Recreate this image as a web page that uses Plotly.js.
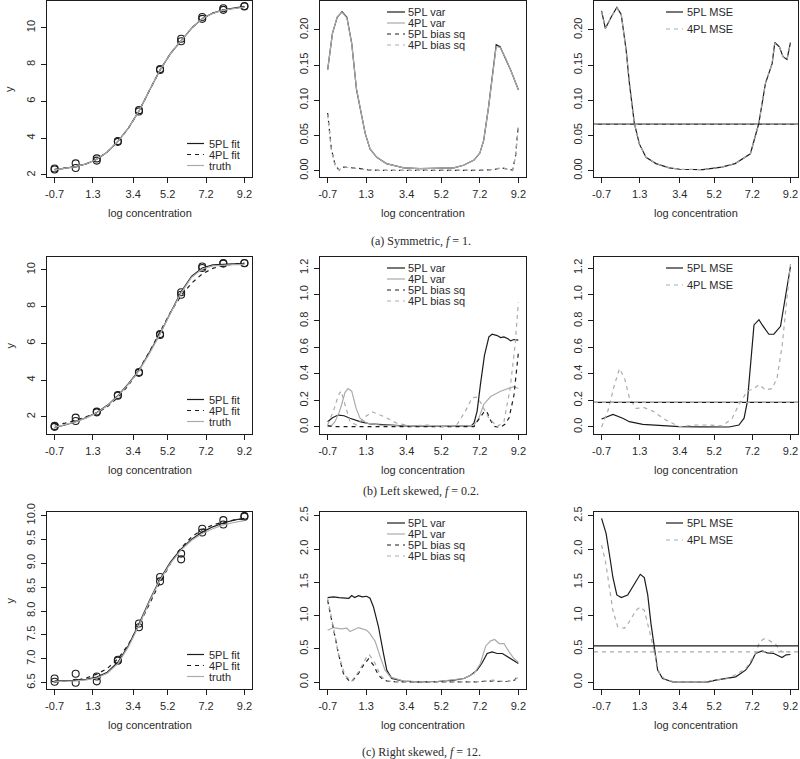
<!DOCTYPE html>
<html><head><meta charset="utf-8">
<script src="https://cdn.plot.ly/plotly-3.0.1.min.js"></script>
<style>html,body{margin:0;padding:0;background:#fff}#chart{width:800px;height:759px}</style>
</head><body><div id="chart"></div>
<script>
// ---------- tick labels ----------
const xTickVals = [-0.7, 1.3, 3.4, 5.2, 7.2, 9.2];
const xTickText = ['-0.7', '1.3', '3.4', '5.2', '7.2', '9.2'];
const yTicksA1 = [2, 4, 6, 8, 10];
const yTicksA2 = [0, 0.05, 0.10, 0.15, 0.20];
const yTicksB1 = [2, 4, 6, 8, 10];
const yTicksB2 = [0, 0.2, 0.4, 0.6, 0.8, 1.0, 1.2];
const yTicksC1 = [6.5, 7.0, 7.5, 8.0, 8.5, 9.0, 9.5, 10.0];
const yTicksC2 = [0, 0.5, 1.0, 1.5, 2.0, 2.5];

// ---------- observations (log concentration) ----------
const xObs = [-0.7, 0.4, 1.5, 2.6, 3.7, 4.8, 5.9, 7.0, 8.1, 9.2];
const obsA1 = [2.30, 2.38, 2.78, 3.80, 5.45, 7.70, 9.26, 10.48, 10.97, 11.15];
const obsA2 = [2.35, 2.63, 2.90, 3.84, 5.52, 7.75, 9.40, 10.58, 11.06, 11.18];
const obsB1 = [1.45, 1.77, 2.24, 3.15, 4.39, 6.45, 8.64, 10.10, 10.34, 10.36];
const obsB2 = [1.50, 1.95, 2.28, 3.18, 4.44, 6.50, 8.78, 10.18, 10.37, 10.37];
const obsC1 = [6.52, 6.50, 6.53, 6.96, 7.66, 8.62, 9.08, 9.64, 9.81, 9.97];
const obsC2 = [6.59, 6.69, 6.63, 6.98, 7.74, 8.71, 9.20, 9.72, 9.90, 9.99];

// ---------- fitted curves ----------
const xCurve = [-0.7, -0.15, 0.4, 0.95, 1.5, 2.05, 2.6, 3.15, 3.7, 4.25, 4.8, 5.35, 5.9, 6.45, 7.0, 7.55, 8.1, 8.65, 9.2];
const fit5A = [2.28, 2.35, 2.45, 2.60, 2.85, 3.25, 3.82, 4.55, 5.47, 6.60, 7.70, 8.60, 9.30, 9.98, 10.50, 10.79, 10.97, 11.08, 11.16];
const fit4A = [2.30, 2.36, 2.46, 2.61, 2.86, 3.25, 3.82, 4.54, 5.46, 6.60, 7.70, 8.61, 9.31, 9.98, 10.49, 10.79, 10.96, 11.06, 11.13];
const truthA = [2.28, 2.35, 2.45, 2.60, 2.85, 3.25, 3.82, 4.55, 5.47, 6.60, 7.70, 8.60, 9.30, 9.98, 10.50, 10.78, 10.95, 11.05, 11.12];
const fit5B = [1.42, 1.55, 1.73, 1.95, 2.23, 2.62, 3.15, 3.80, 4.52, 5.48, 6.52, 7.68, 8.80, 9.65, 10.10, 10.27, 10.32, 10.33, 10.33];
const fit4B = [1.55, 1.65, 1.80, 1.98, 2.20, 2.55, 3.05, 3.70, 4.55, 5.55, 6.62, 7.70, 8.60, 9.28, 9.78, 10.08, 10.24, 10.33, 10.38];
const truthB = [1.42, 1.55, 1.72, 1.94, 2.22, 2.60, 3.12, 3.78, 4.50, 5.45, 6.50, 7.65, 8.75, 9.60, 10.05, 10.22, 10.27, 10.28, 10.28];
const fit5C = [6.54, 6.54, 6.55, 6.57, 6.62, 6.72, 6.93, 7.28, 7.73, 8.22, 8.67, 9.03, 9.30, 9.50, 9.65, 9.76, 9.84, 9.90, 9.94];
const fit4C = [6.52, 6.53, 6.55, 6.60, 6.68, 6.80, 7.00, 7.30, 7.70, 8.15, 8.60, 9.00, 9.32, 9.55, 9.70, 9.80, 9.86, 9.90, 9.93];
const truthC = [6.53, 6.53, 6.54, 6.56, 6.60, 6.70, 6.90, 7.25, 7.70, 8.20, 8.65, 9.00, 9.28, 9.48, 9.62, 9.72, 9.80, 9.85, 9.89];

// ---------- (a) variance / bias^2 / MSE ----------
const varXA = [-0.7, -0.45, -0.2, 0.05, 0.3, 0.55, 0.8, 1.0, 1.25, 1.5, 1.85, 2.35, 3.25, 4.1, 5.0, 5.85, 6.35, 6.9, 7.2, 7.4, 7.65, 7.9, 8.05, 8.25, 8.5, 8.8, 9.2];
const var5A = [0.143, 0.195, 0.218, 0.226, 0.218, 0.181, 0.115, 0.086, 0.053, 0.031, 0.019, 0.010, 0.004, 0.003, 0.003, 0.004, 0.0076, 0.015, 0.025, 0.043, 0.090, 0.148, 0.179, 0.176, 0.162, 0.143, 0.115];
const var4A = [0.143, 0.195, 0.219, 0.225, 0.217, 0.180, 0.116, 0.086, 0.053, 0.031, 0.019, 0.010, 0.004, 0.003, 0.003, 0.004, 0.0076, 0.015, 0.025, 0.043, 0.090, 0.147, 0.176, 0.175, 0.162, 0.143, 0.115];
const biasXA = [-0.7, -0.5, -0.3, -0.1, 0.1, 0.3, 0.6, 1.0, 1.4, 2.0, 3.0, 4.0, 5.0, 6.0, 7.0, 7.6, 8.0, 8.3, 8.5, 8.7, 8.9, 9.05, 9.2];
const bias5A = [0.082, 0.030, 0.007, 0.001, 0.005, 0.005, 0.004, 0.003, 0.001, 0.0005, 0.0003, 0.0003, 0.0003, 0.0003, 0.0004, 0.001, 0.002, 0.004, 0.003, 0.001, 0.001, 0.020, 0.065];
const bias4A = [0.080, 0.028, 0.006, 0.001, 0.005, 0.005, 0.004, 0.002, 0.001, 0.0005, 0.0003, 0.0003, 0.0003, 0.0003, 0.0004, 0.001, 0.002, 0.004, 0.003, 0.001, 0.001, 0.020, 0.062];
const mseXA = [-0.7, -0.5, -0.2, 0.1, 0.33, 0.59, 0.76, 1.02, 1.28, 1.63, 2.15, 2.85, 3.4, 4.6, 5.6, 6.3, 7.1, 7.54, 7.89, 8.24, 8.38, 8.62, 8.81, 9.02, 9.2];
const mse5A = [0.227, 0.202, 0.218, 0.232, 0.222, 0.171, 0.124, 0.067, 0.038, 0.019, 0.010, 0.004, 0.002, 0.0015, 0.005, 0.010, 0.024, 0.067, 0.124, 0.152, 0.182, 0.176, 0.162, 0.158, 0.182];
const mse4A = [0.226, 0.202, 0.218, 0.231, 0.222, 0.171, 0.124, 0.067, 0.038, 0.019, 0.010, 0.004, 0.002, 0.0015, 0.005, 0.010, 0.024, 0.067, 0.124, 0.152, 0.181, 0.176, 0.162, 0.158, 0.181];
const meanMseA = [0.066, 0.066];

// ---------- (b) ----------
const var5XB = [-0.7, -0.45, -0.15, 0.15, 0.46, 0.98, 1.5, 2.37, 3.24, 4.5, 5.5, 6.5, 6.75, 6.9, 7.06, 7.23, 7.44, 7.67, 7.84, 8.1, 8.28, 8.45, 8.66, 8.8, 8.97, 9.2];
const var5B = [0.04, 0.07, 0.09, 0.085, 0.066, 0.04, 0.023, 0.015, 0.008, 0.005, 0.004, 0.005, 0.008, 0.03, 0.12, 0.32, 0.54, 0.68, 0.70, 0.69, 0.675, 0.68, 0.666, 0.65, 0.66, 0.655];
const var4XB = [-0.7, -0.5, -0.32, -0.1, 0.03, 0.2, 0.35, 0.55, 0.78, 0.98, 1.33, 2.0, 3.0, 4.5, 5.5, 6.6, 6.9, 7.15, 7.4, 7.76, 8.28, 8.63, 8.97, 9.2];
const var4B = [0.003, 0.01, 0.04, 0.11, 0.17, 0.26, 0.29, 0.27, 0.14, 0.066, 0.028, 0.015, 0.008, 0.005, 0.004, 0.006, 0.015, 0.066, 0.17, 0.23, 0.27, 0.29, 0.305, 0.29];
const bias5XB = [-0.7, -0.4, 0, 1, 2, 3, 4, 5, 6, 6.9, 7.06, 7.25, 7.4, 7.55, 7.76, 7.95, 8.1, 8.3, 8.5, 8.72, 8.97, 9.2];
const bias5B = [0.01, 0.003, 0.002, 0.002, 0.001, 0.001, 0.001, 0.001, 0.001, 0.003, 0.04, 0.08, 0.11, 0.12, 0.05, 0.005, 0.0, 0.0, 0.02, 0.07, 0.24, 0.56];
const bias4XB = [-0.7, -0.4, -0.14, 0.0, 0.2, 0.46, 0.8, 1.16, 1.6, 2.2, 2.9, 3.6, 4.46, 5.3, 6.0, 6.45, 6.8, 7.06, 7.3, 7.67, 8.1, 8.45, 8.77, 9.03, 9.2];
const bias4B = [0.015, 0.12, 0.24, 0.27, 0.17, 0.04, 0.015, 0.066, 0.115, 0.08, 0.028, 0.008, 0.015, 0.003, 0.015, 0.12, 0.22, 0.225, 0.17, 0.066, 0.003, 0.04, 0.29, 0.62, 0.94];
const mse5XB = [-0.7, -0.4, -0.1, 0.41, 0.76, 1.46, 2.5, 3.37, 4.5, 5.98, 6.5, 6.77, 6.94, 7.12, 7.29, 7.55, 7.72, 8.07, 8.33, 8.68, 8.94, 9.2];
const mse5B = [0.06, 0.08, 0.095, 0.066, 0.04, 0.02, 0.008, 0.003, 0.001, 0.0, 0.015, 0.066, 0.19, 0.49, 0.77, 0.81, 0.77, 0.70, 0.70, 0.76, 1.0, 1.21];
const mse4XB = [-0.7, -0.37, -0.02, 0.24, 0.5, 0.76, 1.11, 1.54, 1.98, 2.67, 3.37, 4.24, 4.93, 5.63, 6.15, 6.5, 6.94, 7.29, 7.55, 7.9, 8.24, 8.5, 8.77, 9.03, 9.2];
const mse4B = [0.0, 0.12, 0.32, 0.44, 0.37, 0.22, 0.14, 0.146, 0.12, 0.053, 0.003, 0.015, 0.015, 0.008, 0.066, 0.17, 0.27, 0.29, 0.32, 0.28, 0.29, 0.37, 0.62, 1.0, 1.23];
const meanMseB = [0.185, 0.185];

// ---------- (c) ----------
const var5XC = [-0.7, -0.4, -0.1, 0.2, 0.4, 0.55, 0.7, 0.9, 1.1, 1.33, 1.5, 1.68, 1.94, 2.2, 2.37, 2.63, 3.24, 4.0, 5.0, 5.85, 6.37, 6.7, 7.06, 7.3, 7.58, 7.84, 8.1, 8.37, 8.63, 8.9, 9.2];
const var5C = [1.27, 1.28, 1.27, 1.26, 1.26, 1.30, 1.27, 1.30, 1.28, 1.29, 1.26, 1.13, 0.83, 0.43, 0.18, 0.055, 0.015, 0.005, 0.01, 0.03, 0.055, 0.10, 0.18, 0.28, 0.43, 0.455, 0.43, 0.43, 0.38, 0.34, 0.28];
const var4XC = [-0.7, -0.4, 0.0, 0.3, 0.46, 0.6, 0.9, 1.1, 1.33, 1.5, 1.77, 2.03, 2.28, 2.55, 3.24, 4.0, 5.0, 6.37, 6.9, 7.23, 7.5, 7.76, 7.97, 8.2, 8.45, 8.72, 8.97, 9.2];
const var4C = [0.78, 0.82, 0.80, 0.81, 0.76, 0.78, 0.82, 0.80, 0.78, 0.73, 0.61, 0.38, 0.18, 0.08, 0.015, 0.006, 0.01, 0.055, 0.13, 0.28, 0.54, 0.62, 0.64, 0.58, 0.58, 0.455, 0.355, 0.30];
const bias5XC = [-0.7, -0.5, -0.3, -0.14, 0.12, 0.38, 0.55, 0.9, 1.16, 1.42, 1.68, 1.94, 2.2, 2.5, 3.0, 5.0, 7.0, 7.6, 7.9, 8.2, 8.6, 9.0, 9.2];
const bias5C = [1.23, 0.93, 0.62, 0.43, 0.13, 0.03, 0.005, 0.13, 0.255, 0.35, 0.255, 0.105, 0.03, 0.01, 0.003, 0.003, 0.005, 0.015, 0.02, 0.01, 0.01, 0.03, 0.10];
const bias4XC = [-0.7, -0.5, -0.3, -0.14, 0.2, 0.55, 0.9, 1.33, 1.47, 1.77, 2.03, 2.28, 2.6, 3.0, 5.0, 7.0, 7.6, 7.9, 8.2, 8.6, 9.0, 9.2];
const bias4C = [1.26, 0.96, 0.65, 0.43, 0.10, 0.015, 0.155, 0.38, 0.41, 0.28, 0.105, 0.03, 0.01, 0.003, 0.003, 0.005, 0.02, 0.03, 0.02, 0.01, 0.03, 0.08];
const mse5XC = [-0.7, -0.46, -0.25, -0.11, 0.1, 0.33, 0.67, 1.02, 1.33, 1.54, 1.72, 1.89, 2.07, 2.24, 2.5, 3.02, 4.0, 4.9, 5.28, 6.33, 6.85, 7.11, 7.37, 7.72, 7.98, 8.33, 8.76, 8.97, 9.2];
const mse5C = [2.46, 2.23, 1.85, 1.58, 1.31, 1.27, 1.31, 1.48, 1.62, 1.57, 1.31, 0.88, 0.48, 0.18, 0.055, 0.005, 0.002, 0.005, 0.03, 0.08, 0.18, 0.28, 0.43, 0.47, 0.44, 0.43, 0.37, 0.41, 0.415];
const mse4XC = [-0.7, -0.5, -0.37, -0.11, 0.15, 0.5, 0.76, 1.11, 1.33, 1.54, 1.8, 2.07, 2.33, 2.67, 3.2, 4.5, 5.98, 6.85, 7.37, 7.58, 7.8, 8.07, 8.41, 8.76, 9.2];
const mse4C = [2.06, 1.82, 1.58, 1.08, 0.83, 0.81, 0.91, 1.08, 1.13, 1.08, 0.78, 0.43, 0.13, 0.03, 0.005, 0.003, 0.055, 0.20, 0.43, 0.60, 0.65, 0.63, 0.57, 0.455, 0.455];
const meanMseC = [0.546, 0.456];

// ---------- text ----------
const captions = ['(a) Symmetric, <i>f</i> = 1.', '(b) Left skewed, <i>f</i> = 0.2.', '(c) Right skewed, <i>f</i> = 12.'];
const legFitLabels = ['5PL fit', '4PL fit', 'truth'];
const legVarLabels = ['5PL var', '4PL var', '5PL bias sq', '4PL bias sq'];
const legMseLabels = ['5PL MSE', '4PL MSE'];

// ---------- styling / layout ----------
const W = 800, H = 759;
const BLACK = '#1c1c1c', GREY = '#ababab', TEXT = '#2a2a2a';
const DASH = '4px,4px';
const LW = 1.2;
const FONT = 'Liberation Sans, Arial, Helvetica, sans-serif';
const colPx = [[47, 252], [320, 526], [594, 798]];
const rowPx = [[1, 177], [257, 434], [512, 689]];
const xRange = [-1.096, 9.596];
const yRanges = [
  [[1.89, 11.45], [-0.009, 0.241], [-0.009, 0.241]],
  [[1.06, 10.7], [-0.053, 1.283], [-0.053, 1.283]],
  [[6.37, 10.07], [-0.103, 2.556], [-0.103, 2.556]]
];
const yTicks = [
  [yTicksA1, yTicksA2, yTicksA2],
  [yTicksB1, yTicksB2, yTicksB2],
  [yTicksC1, yTicksC2, yTicksC2]
];
const yFormats = [['d', '.2f', '.2f'], ['d', '.1f', '.1f'], ['.1f', '.1f', '.1f']];

function sfx(r, c) { const i = r * 3 + c + 1; return i === 1 ? '' : String(i); }

const traces = [];
function line(r, c, x, y, color, dash) {
  const s = sfx(r, c);
  traces.push({ type: 'scatter', mode: 'lines', x: x, y: y, xaxis: 'x' + s, yaxis: 'y' + s,
    line: { color: color, width: LW, dash: dash || 'solid' }, showlegend: false, hoverinfo: 'skip' });
}
function pts(r, c, x, y) {
  const s = sfx(r, c);
  traces.push({ type: 'scatter', mode: 'markers', x: x, y: y, xaxis: 'x' + s, yaxis: 'y' + s,
    marker: { symbol: 'circle-open', size: 7, color: BLACK, line: { width: 1.1, color: BLACK } }, showlegend: false, hoverinfo: 'skip' });
}

const rows = [
  { o1: obsA1, o2: obsA2, f5: fit5A, f4: fit4A, tr: truthA,
    v5x: varXA, v5: var5A, v4x: varXA, v4: var4A, b5x: biasXA, b5: bias5A, b4x: biasXA, b4: bias4A,
    m5x: mseXA, m5: mse5A, m4x: mseXA, m4: mse4A, mean: meanMseA },
  { o1: obsB1, o2: obsB2, f5: fit5B, f4: fit4B, tr: truthB,
    v5x: var5XB, v5: var5B, v4x: var4XB, v4: var4B, b5x: bias5XB, b5: bias5B, b4x: bias4XB, b4: bias4B,
    m5x: mse5XB, m5: mse5B, m4x: mse4XB, m4: mse4B, mean: meanMseB },
  { o1: obsC1, o2: obsC2, f5: fit5C, f4: fit4C, tr: truthC,
    v5x: var5XC, v5: var5C, v4x: var4XC, v4: var4C, b5x: bias5XC, b5: bias5C, b4x: bias4XC, b4: bias4C,
    m5x: mse5XC, m5: mse5C, m4x: mse4XC, m4: mse4C, mean: meanMseC }
];

const shapes = [], annotations = [];
const layout = {
  width: W, height: H, margin: { l: 0, r: 0, t: 0, b: 0, pad: 0 },
  paper_bgcolor: '#fff', plot_bgcolor: '#fff', showlegend: false,
  font: { family: FONT, size: 11, color: TEXT }
};

rows.forEach((d, r) => {
  pts(r, 0, xObs, d.o1);
  pts(r, 0, xObs, d.o2);
  line(r, 0, xCurve, d.f5, BLACK);
  line(r, 0, xCurve, d.f4, BLACK, DASH);
  line(r, 0, xCurve, d.tr, GREY);
  line(r, 1, d.v5x, d.v5, BLACK);
  line(r, 1, d.v4x, d.v4, GREY);
  line(r, 1, d.b5x, d.b5, BLACK, DASH);
  line(r, 1, d.b4x, d.b4, GREY, DASH);
  line(r, 2, d.m5x, d.m5, BLACK);
  line(r, 2, d.m4x, d.m4, GREY, DASH);
  const s3 = sfx(r, 2);
  shapes.push({ type: 'line', xref: 'x' + s3 + ' domain', yref: 'y' + s3, x0: 0, x1: 1, y0: d.mean[0], y1: d.mean[0], line: { color: BLACK, width: LW } });
  shapes.push({ type: 'line', xref: 'x' + s3 + ' domain', yref: 'y' + s3, x0: 0, x1: 1, y0: d.mean[1], y1: d.mean[1], line: { color: GREY, width: LW, dash: DASH } });

  for (let c = 0; c < 3; c++) {
    const s = sfx(r, c);
    const [x0, x1] = colPx[c], [y0, y1] = rowPx[r];
    layout['xaxis' + s] = {
      domain: [x0 / W, x1 / W], range: xRange, anchor: 'y' + s,
      tickvals: xTickVals, ticktext: xTickText, ticks: 'outside', ticklen: 5, tickwidth: 1, tickcolor: BLACK,
      showline: true, mirror: true, linecolor: BLACK, linewidth: 1, showgrid: false, zeroline: false,
      tickfont: { family: FONT, size: 11, color: TEXT }, ticklabelstandoff: 2
    };
    layout['yaxis' + s] = {
      domain: [1 - y1 / H, 1 - y0 / H], range: yRanges[r][c], anchor: 'x' + s,
      tickvals: yTicks[r][c], tickformat: yFormats[r][c], tickangle: -90,
      ticks: 'outside', ticklen: 5, tickwidth: 1, tickcolor: BLACK,
      showline: true, mirror: true, linecolor: BLACK, linewidth: 1, showgrid: false, zeroline: false,
      tickfont: { family: FONT, size: 11, color: TEXT }, ticklabelstandoff: 2
    };
    annotations.push({ xref: 'x' + s + ' domain', yref: 'paper', x: 0.5, y: 1 - (y1 + 36) / H,
      text: 'log concentration', showarrow: false, xanchor: 'center', yanchor: 'middle', font: { size: 11, color: TEXT } });
  }
  annotations.push({ xref: 'paper', yref: 'y' + sfx(r, 0) + ' domain', x: 9 / W, y: 0.5, text: 'y', textangle: -90,
    showarrow: false, xanchor: 'center', yanchor: 'middle', font: { size: 11, color: TEXT } });
  annotations.push({ xref: 'paper', yref: 'paper', x: 421 / W, y: 1 - [240.5, 491, 752][r] / H, text: captions[r],
    showarrow: false, xanchor: 'center', yanchor: 'middle', font: { family: 'Liberation Serif, Times New Roman, serif', size: 12, color: TEXT } });

  const legs = [
    { c: 0, labels: legFitLabels, colors: [BLACK, BLACK, GREY], dashes: ['solid', DASH, 'solid'], lx: [140, 157], tx: 161, ys: [142.5, 153.5, 164.5] },
    { c: 1, labels: legVarLabels, colors: [BLACK, GREY, BLACK, GREY], dashes: ['solid', 'solid', DASH, DASH], lx: [67, 85], tx: 87, ys: [11, 22, 33, 44] },
    { c: 2, labels: legMseLabels, colors: [BLACK, GREY], dashes: ['solid', DASH], lx: [72, 89], tx: 92, ys: [11, 28] }
  ];
  legs.forEach(L => {
    const s = sfx(r, L.c);
    const w = colPx[L.c][1] - colPx[L.c][0], h = rowPx[r][1] - rowPx[r][0];
    L.labels.forEach((lab, k) => {
      shapes.push({ type: 'line', xref: 'x' + s + ' domain', yref: 'y' + s + ' domain',
        x0: L.lx[0] / w, x1: L.lx[1] / w, y0: 1 - L.ys[k] / h, y1: 1 - L.ys[k] / h,
        line: { color: L.colors[k], width: LW, dash: L.dashes[k] } });
      annotations.push({ xref: 'x' + s + ' domain', yref: 'y' + s + ' domain', x: L.tx / w, y: 1 - L.ys[k] / h,
        text: lab, showarrow: false, xanchor: 'left', yanchor: 'middle', borderpad: 0, font: { size: 11, color: TEXT } });
    });
  });
});

layout.shapes = shapes;
layout.annotations = annotations;
Plotly.newPlot('chart', traces, layout, { staticPlot: true, displayModeBar: false });
</script></body></html>
